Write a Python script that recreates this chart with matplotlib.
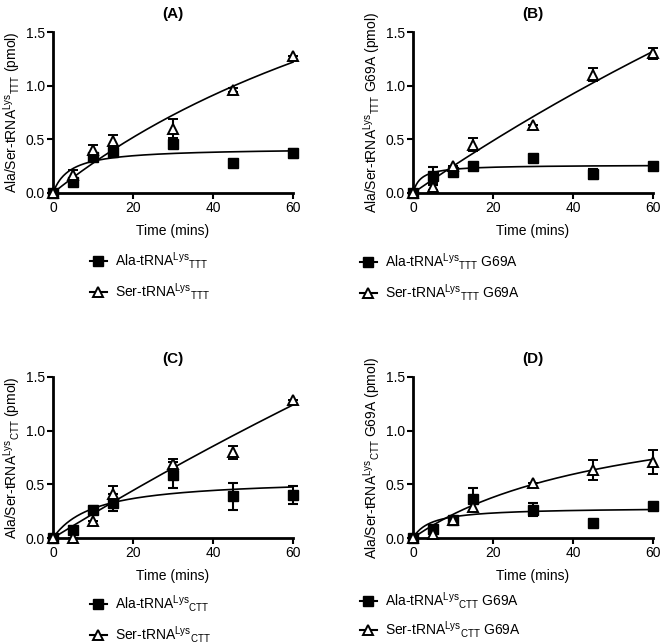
import numpy as np
import matplotlib
matplotlib.use("Agg")
import matplotlib.pyplot as plt
from matplotlib.lines import Line2D

plt.rcParams['font.family'] = ['Liberation Sans', 'DejaVu Sans']
plt.rcParams['mathtext.default'] = 'regular'

time = [0, 5, 10, 15, 30, 45, 60]

# Panel A
ala_A = [0.0, 0.10, 0.34, 0.38, 0.46, 0.28, 0.37]
ala_A_err = [0.0, 0.02, 0.02, 0.02, 0.02, 0.03, 0.04]
ser_A = [0.0, 0.165, 0.40, 0.48, 0.60, 0.96, 1.28]
ser_A_err = [0.0, 0.05, 0.05, 0.06, 0.09, 0.02, 0.0]
# Panel B
ala_B = [0.0, 0.16, 0.20, 0.25, 0.33, 0.176, 0.25]
ala_B_err = [0.0, 0.085, 0.02, 0.0, 0.0, 0.05, 0.0]
ser_B = [0.0, 0.06, 0.25, 0.45, 0.63, 1.10, 1.30]
ser_B_err = [0.0, 0.03, 0.0, 0.06, 0.0, 0.06, 0.05]
# Panel C
ala_C = [0.0, 0.078, 0.26, 0.33, 0.59, 0.39, 0.40]
ala_C_err = [0.0, 0.02, 0.04, 0.08, 0.12, 0.125, 0.08]
ser_C = [0.0, 0.0, 0.155, 0.41, 0.69, 0.80, 1.29]
ser_C_err = [0.0, 0.0, 0.0, 0.07, 0.05, 0.06, 0.0]
# Panel D
ala_D = [0.0, 0.08, 0.165, 0.36, 0.265, 0.14, 0.30]
ala_D_err = [0.0, 0.02, 0.03, 0.11, 0.06, 0.03, 0.0]
ser_D = [0.0, 0.04, 0.165, 0.29, 0.51, 0.635, 0.71]
ser_D_err = [0.0, 0.0, 0.0, 0.04, 0.0, 0.09, 0.11]

# hyperbolic fit parameters (Bmax, K)
fit_ala = {'A': (0.42, 4.2), 'B': (0.263, 1.92), 'C': (0.557, 10.3), 'D': (0.285, 4.5)}
fit_ser = {'A': (3.78, 126.0), 'B': (9.17, 357.0), 'C': (12.4, 540.0), 'D': (1.373, 52.4)}

panel_titles = ['(A)', '(B)', '(C)', '(D)']
ylabels = [r'Ala/Ser-tRNA$^{Lys}$$_{TTT}$ (pmol)',
           r'Ala/Ser-tRNA$^{Lys}$$_{TTT}$ G69A (pmol)',
           r'Ala/Ser-tRNA$^{Lys}$$_{CTT}$ (pmol)',
           r'Ala/Ser-tRNA$^{Lys}$$_{CTT}$ G69A (pmol)']
ala_labels = [r'Ala-tRNA$^{Lys}$$_{TTT}$', r'Ala-tRNA$^{Lys}$$_{TTT}$ G69A',
              r'Ala-tRNA$^{Lys}$$_{CTT}$', r'Ala-tRNA$^{Lys}$$_{CTT}$ G69A']
ser_labels = [r'Ser-tRNA$^{Lys}$$_{TTT}$', r'Ser-tRNA$^{Lys}$$_{TTT}$ G69A',
              r'Ser-tRNA$^{Lys}$$_{CTT}$', r'Ser-tRNA$^{Lys}$$_{CTT}$ G69A']
xticks = [0, 20, 40, 60]
yticks = [0.0, 0.5, 1.0, 1.5]
ytick_labels = ['0.0', '0.5', '1.0', '1.5']

data = [
    ('A', ala_A, ala_A_err, ser_A, ser_A_err),
    ('B', ala_B, ala_B_err, ser_B, ser_B_err),
    ('C', ala_C, ala_C_err, ser_C, ser_C_err),
    ('D', ala_D, ala_D_err, ser_D, ser_D_err),
]

W, H = 660, 644
fig = plt.figure(figsize=(W / 100, H / 100), dpi=100)

# axes boxes in pixels: (left, top, right, bottom)
boxes = [(53, 32, 293, 193), (413, 32, 653, 193),
         (53, 377, 293, 538), (413, 377, 653, 538)]
legend_pos = [(90, 276), (360, 277), (90, 619), (360, 615)]
legend_spacing = [0.75, 0.75, 0.75, 0.55]

t_fit = np.linspace(0, 60, 300)

for i, (key, ala, ala_e, ser, ser_e) in enumerate(data):
    l, t, r, b = boxes[i]
    ax = fig.add_axes([l / W, 1 - b / H, (r - l) / W, (b - t) / H])
    for s in ['top', 'right']:
        ax.spines[s].set_visible(False)
    for s in ['left', 'bottom']:
        ax.spines[s].set_linewidth(2.0)
    ax.tick_params(direction='out', length=4, width=1.5, labelsize=10, pad=2)
    ax.set_xlim(0, 60)
    ax.set_ylim(0, 1.5)
    ax.set_xticks(xticks)
    ax.set_yticks(yticks)
    ax.set_yticklabels(ytick_labels)

    Bm, K = fit_ala[key]
    ax.plot(t_fit, Bm * t_fit / (K + t_fit), color='black', lw=1.2, clip_on=False, zorder=2)
    Bm, K = fit_ser[key]
    ax.plot(t_fit, Bm * t_fit / (K + t_fit), color='black', lw=1.2, clip_on=False, zorder=2)

    eb = ax.errorbar(time, ala, yerr=ala_e, fmt='s', color='black', ms=6.5,
                     mfc='black', mec='black', ecolor='black', elinewidth=1.5,
                     capsize=3.8, capthick=1.5, zorder=3)
    for art in eb.get_children():
        art.set_clip_on(False)
    eb2 = ax.errorbar(time, ser, yerr=ser_e, fmt='^', color='black', ms=7.5,
                      mfc='white', mec='black', mew=1.4, ecolor='black', elinewidth=1.5,
                      capsize=3.8, capthick=1.5, zorder=4)
    for art in eb2.get_children():
        art.set_clip_on(False)

    ax.set_title(panel_titles[i], fontsize=11, fontweight='bold', pad=10)
    ax.set_xlabel('Time (mins)', fontsize=10, labelpad=6)
    ax.set_ylabel(ylabels[i], fontsize=10, labelpad=2)

    handles = [Line2D([0], [0], color='black', lw=1.5, marker='s', ms=6.5, mfc='black'),
               Line2D([0], [0], color='black', lw=1.5, marker='^', ms=7.5, mfc='white', mew=1.4)]
    lx, ly = legend_pos[i]
    fig.legend(handles, [ala_labels[i], ser_labels[i]], loc='center left',
               bbox_to_anchor=(lx / W, 1 - ly / H), frameon=False, fontsize=10,
               handlelength=1.2, handletextpad=0.6, labelspacing=legend_spacing[i],
               borderaxespad=0, borderpad=0)

fig.savefig('out.png', dpi=100)
